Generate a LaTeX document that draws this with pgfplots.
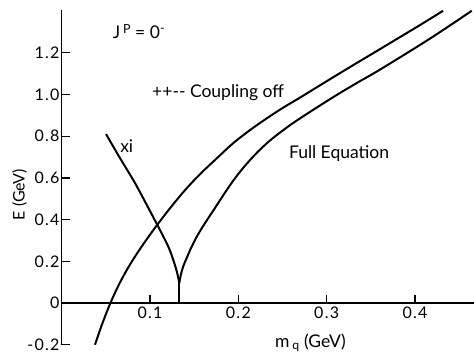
\documentclass[border=0pt]{standalone}
\usepackage{fontspec}
\setmainfont{Lato}
\newfontfamily\tickfont[LetterSpace=8]{Lato}
\usepackage{pgfplots}
\pgfplotsset{compat=1.18}
\begin{document}
\begin{tikzpicture}
\path[use as bounding box] (-61.7pt,-11.3pt) rectangle (412.3pt,344.8pt);
\begin{axis}[
  at={(0,0)}, anchor=south west,
  scale only axis, width=412.3pt, height=334.8pt,
  xmin=0, xmax=0.4668, ymin=-0.2, ymax=1.405,
  axis x line=middle, axis y line=left,
  axis line style={-, line width=1.3pt},
  tick align=inside, major tick length=8pt,
  tick style={line width=1.3pt, black},
  xtick={0.1,0.2,0.3,0.4}, xticklabels={0.1,0.2,0.3,0.4},
  ytick={-0.2,0,0.2,0.4,0.6,0.8,1.0,1.2},
  yticklabels={-0.2,0,0.2,0.4,0.6,0.8,1.0,1.2},
  hide obscured y ticks=false,
  hide obscured x ticks=false,
  tick label style={font=\tickfont\fontsize{16}{16}\selectfont},
  yticklabel style={inner sep=2pt},
  xticklabel style={inner sep=4pt},
  clip=false,
]
% Coupling off
\addplot[black, line width=2pt, smooth, tension=0.6] coordinates {
(0.0377,-0.200) (0.0456,-0.1028) (0.0547,-0.0045) (0.0637,0.0792) (0.0728,0.1520)
(0.0819,0.2157) (0.0909,0.2733) (0.1000,0.3279) (0.1076,0.3720) (0.1226,0.4545)
(0.1396,0.5412) (0.1566,0.6180) (0.1755,0.6937) (0.1943,0.7670) (0.2132,0.8293)
(0.2321,0.8854) (0.2509,0.9372) (0.2698,0.9851) (0.3151,1.1026) (0.3604,1.2176)
(0.4056,1.3327) (0.4317,1.4012)};
% xi
\addplot[black, line width=2pt, smooth, tension=0.6] coordinates {
(0.0502,0.8102) (0.0660,0.6951) (0.0830,0.5753) (0.1000,0.4410) (0.1113,0.3500)
(0.1204,0.2733) (0.1260,0.2109) (0.1305,0.1486) (0.1331,0.0959)};
% vertical cusp segment
\addplot[black, line width=2.4pt] coordinates {(0.1331,0.0) (0.1331,0.105)};
% Full equation
\addplot[black, line width=2pt, smooth, tension=0.6] coordinates {
(0.1331,0.0959) (0.1351,0.1390) (0.1379,0.1798) (0.1415,0.2157) (0.1475,0.2733)
(0.1566,0.3452) (0.1716,0.4434) (0.1943,0.5873) (0.2132,0.6855) (0.2321,0.7656)
(0.2509,0.8293) (0.2698,0.8854) (0.3075,0.9875) (0.3340,1.0547) (0.3604,1.1194)
(0.4170,1.2680) (0.4642,1.4012)};
\node[anchor=west, font=\fontsize{17.5}{17.5}\selectfont] at (axis cs:0.054,1.30)
  {J\,\raisebox{0.55ex}{\fontsize{12.5}{12.5}\selectfont P} = 0\raisebox{0.7ex}{\fontsize{12.5}{12.5}\selectfont -}};
\node[anchor=west, font=\fontsize{17.5}{17.5}\selectfont] at (axis cs:0.0985,1.01) {++-{}- Coupling off};
\node[font=\fontsize{17.5}{17.5}\selectfont] at (axis cs:0.0736,0.753) {xi};
\node[font=\fontsize{17.5}{17.5}\selectfont] at (axis cs:0.314,0.719) {Full Equation};
\node[anchor=west, font=\fontsize{17.5}{17.5}\selectfont] at (axis cs:0.2375,-0.19) {m\,\textsubscript{q} (GeV)};
\node[rotate=90, font=\fontsize{16}{16}\selectfont] at (axis cs:0,0.52) [yshift=42pt] {E (GeV)};
\end{axis}
\end{tikzpicture}
\end{document}
